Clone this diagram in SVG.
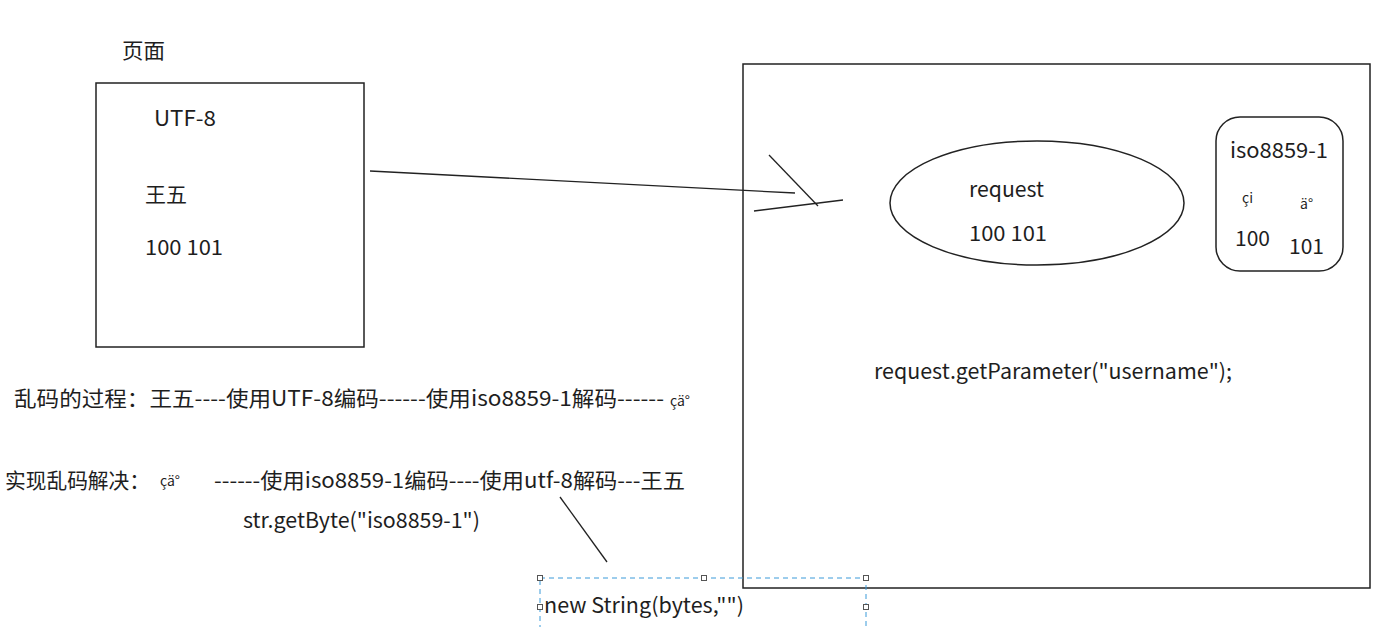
<svg xmlns="http://www.w3.org/2000/svg" width="1384" height="627" viewBox="0 0 1384 627">
<style>
text{font-family:"Noto Sans CJK SC","Microsoft YaHei","Noto Sans",sans-serif;fill:#1e1e1e;font-size:21px}
.sm{font-size:14px}
.box{fill:none;stroke:#222;stroke-width:1.5}
.ln{fill:none;stroke:#222;stroke-width:1.3}
.sel{fill:none;stroke:#3a9ad9;stroke-width:1;stroke-dasharray:5,4}
.h{fill:#fff;stroke:#555;stroke-width:1}
</style>
<rect width="1384" height="627" fill="#fff"/>
<g id="page">
<text x="122" y="58" textLength="43" lengthAdjust="spacingAndGlyphs">页面</text>
<rect class="box" x="96" y="83" width="268" height="264"/>
<text x="154" y="126" textLength="62" lengthAdjust="spacingAndGlyphs">UTF-8</text>
<text x="145" y="202" textLength="42" lengthAdjust="spacingAndGlyphs">王五</text>
<text x="145" y="255" textLength="78" lengthAdjust="spacingAndGlyphs">100 101</text>
</g>
<g id="server">
<rect class="box" x="743" y="64" width="627" height="524"/>
<text x="874" y="379" textLength="358" lengthAdjust="spacingAndGlyphs">request.getParameter("username");</text>
</g>
<g id="request">
<ellipse class="box" cx="1037" cy="203" rx="147" ry="62"/>
<text x="969" y="197" textLength="75" lengthAdjust="spacingAndGlyphs">request</text>
<text x="969" y="241" textLength="78" lengthAdjust="spacingAndGlyphs">100 101</text>
</g>
<g id="iso">
<rect class="box" x="1216" y="117" width="127" height="154" rx="24"/>
<text x="1230" y="158" textLength="98" lengthAdjust="spacingAndGlyphs">iso8859-1</text>
<text class="sm" x="1242" y="203">çi</text>
<text class="sm" x="1300" y="209">ä°</text>
<text x="1235" y="246" textLength="35" lengthAdjust="spacingAndGlyphs">100</text>
<text x="1289" y="254" textLength="35" lengthAdjust="spacingAndGlyphs">101</text>
</g>
<g id="notes">
<text x="14" y="406" textLength="650" lengthAdjust="spacingAndGlyphs">乱码的过程：王五----使用UTF-8编码------使用iso8859-1解码------</text>
<text class="sm" x="670" y="406">çä°</text>
<text x="5" y="488" textLength="145" lengthAdjust="spacingAndGlyphs">实现乱码解决：</text>
<text class="sm" x="160" y="486">çä°</text>
<text x="214" y="488" textLength="471" lengthAdjust="spacingAndGlyphs">------使用iso8859-1编码----使用utf-8解码---王五</text>
<text x="243" y="528" textLength="237" lengthAdjust="spacingAndGlyphs">str.getByte("iso8859-1")</text>
</g>
<g id="newString">
<rect class="sel" x="540" y="578" width="326" height="60"/>
<text x="544" y="613" textLength="200" lengthAdjust="spacingAndGlyphs">new String(bytes,"")</text>
<rect class="h" x="537.5" y="575.5" width="5" height="5"/>
<rect class="h" x="701.5" y="575.5" width="5" height="5"/>
<rect class="h" x="863.5" y="575.5" width="5" height="5"/>
<rect class="h" x="537.5" y="604.5" width="5" height="5"/>
<rect class="h" x="863.5" y="604.5" width="5" height="5"/>
</g>
<g id="connectors">
<path class="ln" d="M370 171 L795 193"/>
<path class="ln" d="M769 155 L818 206"/>
<path class="ln" d="M754 211 L843 200"/>
<path class="ln" d="M560 497 L607 562"/>
</g>
</svg>
